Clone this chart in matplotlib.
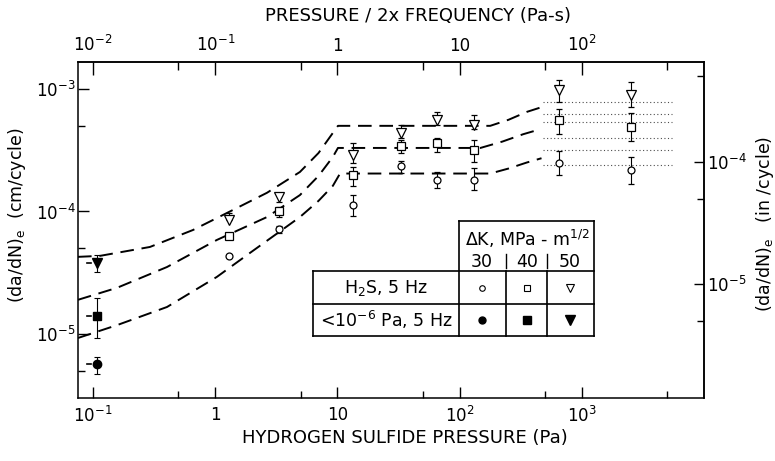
import matplotlib
matplotlib.use("Agg")
import matplotlib.pyplot as plt
from matplotlib.lines import Line2D
from matplotlib.ticker import FixedLocator, NullFormatter

plt.rcParams["font.family"] = ["DejaVu Sans"]
plt.rcParams["mathtext.default"] = "regular"

# --- data -----------------------------------------------------------------
# H2S, 5 Hz (open symbols), one list per Delta K
pressure_h2s = [1.3, 3.3, 13.4, 33, 65, 131, 646, 2520]

rate_dk30 = [4.3e-5, 7.2e-5, 1.12e-4, 2.35e-4, 1.82e-4, 1.8e-4, 2.5e-4, 2.2e-4]
low_dk30 = [4.3e-5, 6.7e-5, 9.1e-5, 2.05e-4, 1.55e-4, 1.5e-4, 2.0e-4, 1.67e-4]
high_dk30 = [4.3e-5, 7.6e-5, 1.36e-4, 2.6e-4, 2.1e-4, 2.27e-4, 3.1e-4, 2.8e-4]

rate_dk40 = [6.3e-5, 1.0e-4, 2.0e-4, 3.4e-4, 3.6e-4, 3.2e-4, 5.6e-4, 4.9e-4]
low_dk40 = [6.3e-5, 9.0e-5, 1.6e-4, 3.0e-4, 3.06e-4, 2.54e-4, 4.3e-4, 3.77e-4]
high_dk40 = [6.3e-5, 1.09e-4, 2.3e-4, 3.84e-4, 4.0e-4, 3.84e-4, 6.9e-4, 6.4e-4]

rate_dk50 = [8.5e-5, 1.3e-4, 2.9e-4, 4.4e-4, 5.6e-4, 5.1e-4, 9.8e-4, 8.9e-4]
low_dk50 = [8.5e-5, 1.2e-4, 2.5e-4, 4.0e-4, 5.1e-4, 4.7e-4, 7.8e-4, 7.1e-4]
high_dk50 = [9.8e-5, 1.41e-4, 3.6e-4, 5.1e-4, 6.5e-4, 6.1e-4, 1.18e-3, 1.14e-3]

# vacuum < 1e-6 Pa, 5 Hz (filled symbols): DK 30, 40, 50
pressure_vac = [0.108, 0.108, 0.108]
rate_vac = [5.7e-6, 1.4e-5, 3.8e-5]
low_vac = [4.7e-6, 9.3e-6, 3.2e-5]
high_vac = [6.5e-6, 1.97e-5, 4.4e-5]
stub_vac = [0.090, 0.096]   # short dash drawn left of each vacuum point

# dashed trend curves
curve_x_dk30 = [0.0753, 0.157, 0.403, 1.03, 1.92, 3.2, 4.93, 7.0, 9.18, 10.5,
                178, 251, 355, 468]
curve_y_dk30 = [9.27e-6, 1.18e-5, 1.66e-5, 2.92e-5, 4.58e-5, 6.6e-5, 9.0e-5, 1.22e-4,
                1.62e-4, 2.04e-4, 2.04e-4, 2.24e-4, 2.51e-4, 2.72e-4]
curve_x_dk40 = [0.0753, 0.157, 0.403, 1.03, 2.65, 4.93, 7.0, 9.18, 10.1,
                148, 224, 331, 453]
curve_y_dk40 = [1.90e-5, 2.38e-5, 3.52e-5, 5.85e-5, 9.0e-5, 1.36e-4, 1.95e-4, 2.79e-4,
                3.3e-4, 3.3e-4, 3.72e-4, 4.27e-4, 4.68e-4]
curve_x_dk50 = [0.0753, 0.114, 0.292, 0.658, 1.40, 2.65, 4.93, 7.0, 9.18, 10.1,
                178, 251, 355, 468]
curve_y_dk50 = [4.26e-5, 4.34e-5, 5.13e-5, 7.06e-5, 1.03e-4, 1.42e-4, 2.10e-4, 3.0e-4,
                4.38e-4, 5.0e-4, 5.0e-4, 5.6e-4, 6.5e-4, 7.1e-4]

# dotted scatter bands at high pressure
band_x = [480, 5500]
band_levels = [7.9e-4, 6.2e-4, 5.35e-4, 4.0e-4, 3.18e-4, 2.4e-4]

# axis ticks
xticks_bottom = [0.1, 1, 10, 100, 1000]
xlabels_bottom = ["10$^{-1}$", "1", "10", "10$^{2}$", "10$^{3}$"]
xminor_bottom = [0.5, 5, 50, 500, 5000]
xticks_top = [0.01, 0.1, 1, 10, 100]
xlabels_top = ["10$^{-2}$", "10$^{-1}$", "1", "10", "10$^{2}$"]
xminor_top = [0.05, 0.5, 5, 50, 500]
yticks_left = [1e-3, 1e-4, 1e-5]
ylabels_left = ["10$^{-3}$", "10$^{-4}$", "10$^{-5}$"]
yminor_left = [5e-4, 5e-5, 5e-6]
yticks_right = [1e-4, 1e-5]
ylabels_right = ["10$^{-4}$", "10$^{-5}$"]
yminor_right = [5e-4, 5e-5, 5e-6]

W, H = 775, 461


def fx(px):
    return px / W


def fy(py):
    return 1 - py / H


fig = plt.figure(figsize=(W / 100, H / 100), dpi=100)
ax = fig.add_axes([fx(78), fy(398), 626 / W, 336 / H])
ax.set_xscale("log")
ax.set_yscale("log")
ax.set_xlim(0.0753, 1e4)
ax.set_ylim(3.0e-6, 1.66e-3)
for sp in ax.spines.values():
    sp.set_linewidth(1.1)

# --- curves ----------------------------------------------------------------
dash = dict(color="black", lw=1.4, ls=(0, (7, 4)), zorder=2)
ax.plot(curve_x_dk30, curve_y_dk30, **dash)
ax.plot(curve_x_dk40, curve_y_dk40, **dash)
ax.plot(curve_x_dk50, curve_y_dk50, **dash)
for lev in band_levels:
    ax.plot(band_x, [lev, lev], color="0.3", lw=0.8, ls=(0, (1, 2.2)), zorder=1)

# --- data points -----------------------------------------------------------
series = [
    (rate_dk30, low_dk30, high_dk30, "o", 5),
    (rate_dk40, low_dk40, high_dk40, "s", 5.5),
    (rate_dk50, low_dk50, high_dk50, "v", 7),
]
for rate, lo, hi, mk, ms in series:
    yerr = [[r - l for r, l in zip(rate, lo)], [h - r for r, h in zip(rate, hi)]]
    ax.errorbar(pressure_h2s, rate, yerr=yerr, fmt=mk, ms=ms, mfc="white",
                mec="black", mew=0.9, ecolor="black", elinewidth=0.8,
                capsize=2.5, capthick=0.8, zorder=3)

vac_markers = ["o", "s", "v"]
vac_sizes = [6, 6, 7.5]
for i in range(3):
    ax.errorbar([pressure_vac[i]], [rate_vac[i]],
                yerr=[[rate_vac[i] - low_vac[i]], [high_vac[i] - rate_vac[i]]],
                fmt=vac_markers[i], ms=vac_sizes[i], mfc="black", mec="black",
                ecolor="black", elinewidth=0.8, capsize=2.5, capthick=0.8, zorder=3)
    ax.plot(stub_vac, [rate_vac[i], rate_vac[i]], color="black", lw=1.2, zorder=3)

# --- ticks -----------------------------------------------------------------
tick_kw = dict(direction="in", width=1.0, labelsize=12)
ax.set_xticks(xticks_bottom, xlabels_bottom)
ax.xaxis.set_minor_locator(FixedLocator(xminor_bottom))
ax.xaxis.set_minor_formatter(NullFormatter())
ax.set_yticks(yticks_left, ylabels_left)
ax.yaxis.set_minor_locator(FixedLocator(yminor_left))
ax.yaxis.set_minor_formatter(NullFormatter())
ax.tick_params(axis="x", which="major", length=8, pad=6, **tick_kw)
ax.tick_params(axis="y", which="major", length=8, pad=1.5, **tick_kw)
ax.tick_params(which="minor", direction="in", length=5, width=1.0)

top = ax.secondary_xaxis("top", functions=(lambda x: x / 10, lambda x: x * 10))
top.set_xticks(xticks_top, xlabels_top)
top.xaxis.set_minor_locator(FixedLocator(xminor_top))
top.xaxis.set_minor_formatter(NullFormatter())
top.tick_params(which="major", length=9, pad=5, **tick_kw)
top.tick_params(which="minor", direction="in", length=6, width=1.0)
top.spines["top"].set_linewidth(1.1)

right = ax.secondary_yaxis("right", functions=(lambda y: y / 2.54, lambda y: y * 2.54))
right.set_yticks(yticks_right, ylabels_right)
right.yaxis.set_minor_locator(FixedLocator(yminor_right))
right.yaxis.set_minor_formatter(NullFormatter())
right.tick_params(which="major", length=7, pad=2, **tick_kw)
right.tick_params(which="minor", direction="in", length=5, width=1.0)
right.spines["right"].set_linewidth(1.1)

# --- axis titles -----------------------------------------------------------
fig.text(fx(418), fy(16), "PRESSURE / 2x FREQUENCY (Pa-s)", ha="center", va="center", fontsize=13)
fig.text(fx(405), fy(438), "HYDROGEN SULFIDE PRESSURE (Pa)", ha="center", va="center", fontsize=13)
fig.text(fx(17), fy(215), "(da/dN)$_e$  (cm/cycle)", rotation=90, ha="center", va="center", fontsize=12.5)
fig.text(fx(765), fy(224), "(da/dN)$_e$   (in /cycle)", rotation=90, ha="center", va="center", fontsize=12.5)

# --- legend table ----------------------------------------------------------
def hline(px0, px1, py, lw=1.2):
    fig.add_artist(Line2D([fx(px0), fx(px1)], [fy(py), fy(py)], transform=fig.transFigure,
                          color="black", lw=lw))


def vline(px, py0, py1, lw=1.2):
    fig.add_artist(Line2D([fx(px), fx(px)], [fy(py0), fy(py1)], transform=fig.transFigure,
                          color="black", lw=lw))


hline(459, 594, 221)
hline(313, 594, 271)
hline(313, 594, 304)
hline(313, 594, 336)
vline(459, 221, 336)
vline(594, 221, 336)
vline(313, 271, 336)
vline(506, 271, 336)
vline(547, 271, 336)
vline(506, 254, 268, lw=1.0)
vline(547, 254, 268, lw=1.0)

fig.text(fx(527), fy(239), "ΔK, MPa - m$^{1/2}$", ha="center", va="center", fontsize=12.5)
col_px = [482, 527, 570]
for cx, lab in zip(col_px, ["30", "40", "50"]):
    fig.text(fx(cx), fy(262), lab, ha="center", va="center", fontsize=12.5)
fig.text(fx(386), fy(288), "H$_2$S, 5 Hz", ha="center", va="center", fontsize=12.5)
fig.text(fx(386), fy(320), "<10$^{-6}$ Pa, 5 Hz", ha="center", va="center", fontsize=12.5)

leg_sizes = [4, 4.5, 5.5]
for cx, mk, ms in zip(col_px, vac_markers, leg_sizes):
    fig.add_artist(Line2D([fx(cx)], [fy(288)], transform=fig.transFigure, marker=mk, ms=ms,
                          mfc="white", mec="black", mew=0.8, ls="none"))
    fig.add_artist(Line2D([fx(cx)], [fy(320)], transform=fig.transFigure, marker=mk, ms=ms + 1,
                          mfc="black", mec="black", ls="none"))

fig.savefig("out.png", dpi=100)
